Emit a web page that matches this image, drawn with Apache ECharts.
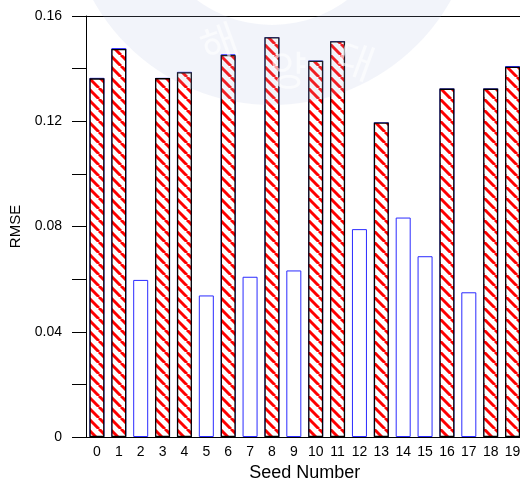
<!DOCTYPE html>
<html>
<head>
<meta charset="utf-8">
<script src="https://cdn.jsdelivr.net/npm/echarts@6/dist/echarts.min.js"></script>
<style>
  html, body { margin: 0; padding: 0; background: #fff; }
  #chart { width: 520px; height: 481px; }
</style>
</head>
<body>
<div id="chart"></div>
<script>
// seeds on the x axis
var seeds = ['0','1','2','3','4','5','6','7','8','9','10','11','12','13','14','15','16','17','18','19'];
// blue outlined bars (all seeds)
var blueRmse = [0.1365, 0.1478, 0.0597, 0.1365, 0.1388, 0.0538, 0.1455, 0.0609, 0.1520, 0.0633,
                0.1431, 0.1505, 0.0790, 0.1196, 0.0834, 0.0687, 0.1325, 0.0550, 0.1325, 0.1410];
// red hatched bars (drawn over the blue ones)
var redRmse = [0.1363, 0.1475, null, 0.1364, 0.1386, null, 0.1452, null, 0.1519, null,
               0.1430, 0.1504, null, 0.1195, null, null, 0.1324, null, 0.1324, 0.1407];

// hatch pattern: red "\" stripes on white
var P = 11;
var hatch = document.createElement('canvas');
hatch.width = P;
hatch.height = P;
var ctx = hatch.getContext('2d');
ctx.fillStyle = '#fff';
ctx.fillRect(0, 0, P, P);
ctx.strokeStyle = '#ff0000';
ctx.lineWidth = 3;
[-P, 0, P].forEach(function (k) {
    ctx.beginPath();
    ctx.moveTo(k, 0);
    ctx.lineTo(k + P, P);
    ctx.stroke();
});

var font = 'Liberation Sans';

option = {
    animation: false,
    grid: { left: 86, top: 16, width: 437.5, height: 421, outerBoundsMode: 'none', containLabel: false },
    xAxis: [
        {
            type: 'category',
            data: seeds,
            name: 'Seed Number',
            nameLocation: 'middle',
            nameGap: 26,
            nameTextStyle: { fontSize: 18, color: '#000', fontFamily: font },
            axisLine: { show: true, lineStyle: { color: '#000' } },
            axisTick: { show: false },
            axisLabel: { fontSize: 14, color: '#000', fontFamily: font, margin: 8, interval: 0 }
        },
        {
            type: 'category',
            data: seeds,
            position: 'top',
            axisLine: { show: true, lineStyle: { color: '#000' } },
            axisTick: { show: false },
            axisLabel: { show: false }
        }
    ],
    yAxis: {
        type: 'value',
        min: 0,
        max: 0.16,
        interval: 0.04,
        name: 'RMSE',
        nameLocation: 'middle',
        nameGap: 58,
        nameTextStyle: { fontSize: 15, color: '#000', fontFamily: font },
        axisLine: { show: true, lineStyle: { color: '#000' } },
        axisTick: { show: true, length: 14, lineStyle: { color: '#000' } },
        minorTick: { show: true, splitNumber: 2, length: 14, lineStyle: { color: '#000' } },
        splitLine: { show: false },
        axisLabel: {
            fontSize: 14, color: '#000', fontFamily: font, margin: 24,
            formatter: function (v) { return v === 0 ? '0' : v.toFixed(2); }
        }
    },
    series: [
        {
            name: 'blue',
            type: 'bar',
            data: blueRmse,
            barWidth: 15,
            barGap: '-100%',
            itemStyle: { color: '#fff', borderColor: '#2a2aff', borderWidth: 1 }
        },
        {
            name: 'red',
            type: 'bar',
            data: redRmse,
            barWidth: 15,
            barGap: '-100%',
            itemStyle: { color: { image: hatch, repeat: 'repeat' }, borderColor: '#000', borderWidth: 1.3 }
        }
    ],
    // faint seal watermark
    graphic: [
        {
            type: 'ring',
            shape: { cx: 272, cy: -100, r: 205, r0: 125 },
            style: { fill: 'rgba(175,185,225,0.16)' },
            z: 100,
            silent: true
        },
        {
            type: 'text',
            x: 195, y: 30, rotation: 0.35,
            style: { text: '해', fontSize: 40, fill: 'rgba(255,255,255,0.6)', fontFamily: 'Noto Sans CJK KR' },
            z: 101, silent: true
        },
        {
            type: 'text',
            x: 270, y: 50,
            style: { text: '양', fontSize: 40, fill: 'rgba(255,255,255,0.6)', fontFamily: 'Noto Sans CJK KR' },
            z: 101, silent: true
        },
        {
            type: 'text',
            x: 345, y: 35, rotation: -0.35,
            style: { text: '대', fontSize: 40, fill: 'rgba(255,255,255,0.6)', fontFamily: 'Noto Sans CJK KR' },
            z: 101, silent: true
        }
    ]
};

var myChart = echarts.init(document.getElementById('chart'));
myChart.setOption(option);
</script>
</body>
</html>
